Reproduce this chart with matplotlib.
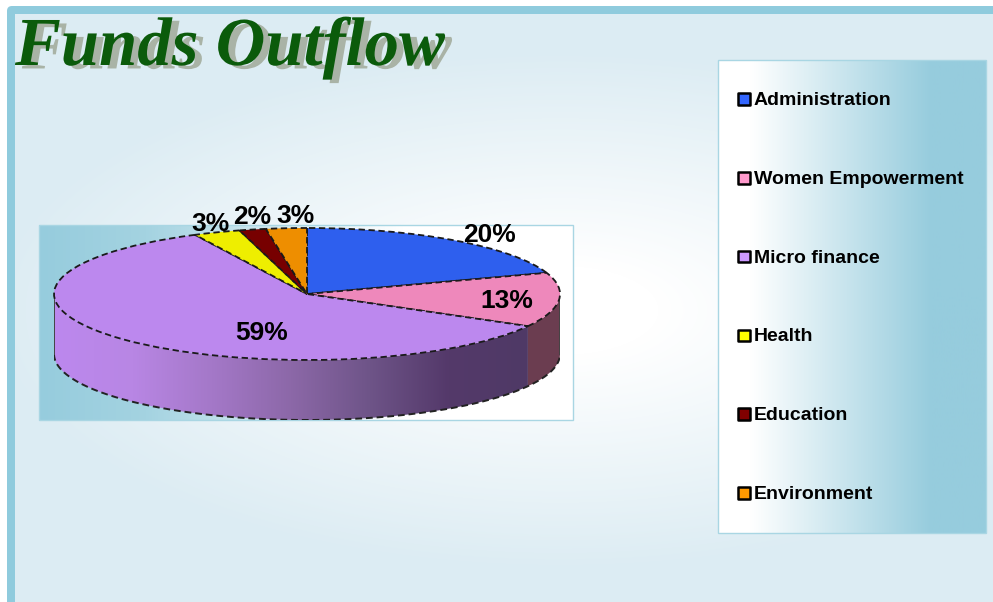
"""
plot.py - Funds Outflow pseudo 3D pie (matplotlib only)
"""
import numpy as np
import matplotlib.pyplot as plt
import matplotlib.patheffects as pe
from matplotlib.colors import LinearSegmentedColormap
from matplotlib.patches import FancyBboxPatch, Polygon, Rectangle

plt.rcParams['font.family'] = ['Liberation Sans', 'DejaVu Sans']

categories = ['Administration', 'Women Empowerment', 'Micro finance', 'Health', 'Education', 'Environment']
values = [19.8, 13.3, 59.6, 3.0, 1.7, 2.6]
pct_labels = ['20%', '13%', '59%', '3%', '2%', '3%']
top_colors = ['#2E5FEE', '#EE88BB', '#BC88EE', '#EEEE00', '#770000', '#EE8E00']
legend_colors = ['#3366FF', '#FF99CC', '#CC99FF', '#FFFF00', '#800000', '#FF9900']
title = 'Funds Outflow'

W, H = 993, 602
DEPTH = 60 / 66  # wall height in units of the ellipse's y radius
DASH = (0, (3.5, 2))


def hgrad(ax, x0, y0, x1, y1, stops, **kw):
    cmap = LinearSegmentedColormap.from_list('g', stops)
    grad = np.linspace(0, 1, 256).reshape(1, -1)
    return ax.imshow(grad, cmap=cmap, extent=(x0, x1, y1, y0), aspect='auto', vmin=0, vmax=1, **kw)


fig = plt.figure(figsize=(W / 100, H / 100), dpi=100)
ax = fig.add_axes([0, 0, 1, 1])
ax.axis('off')

# page frame and soft background
ax.add_patch(FancyBboxPatch((7, 6), 1100, 700, boxstyle='round,pad=0,rounding_size=5',
                            fc='#8FCBDD', ec='none', zorder=0))
xx, yy = np.meshgrid(np.arange(15, W), np.arange(14, H))
dist = np.hypot((xx - 560) / 640, (yy - 310) / 290)
shade = np.clip((dist - 0.15) / 0.75, 0, 1)
page = LinearSegmentedColormap.from_list('page', ['#FFFFFF', '#DCECF3'])
ax.imshow(shade, cmap=page, extent=(15, W, H, 14), aspect='auto', vmin=0, vmax=1, zorder=1)

# title with offset shadow
ax.text(15, 65, title, family='Liberation Serif', style='italic', weight='bold', fontsize=49.5,
        color='#0B5B0B', zorder=3,
        path_effects=[pe.withSimplePatchShadow(offset=(5, -2.5), shadow_rgbFace='#A9B3A6', alpha=1)])

# plot area
hgrad(ax, 39, 225, 573, 420, [(0, '#96CCDD'), (0.2, '#A4D3E1'), (0.68, '#FFFFFF'), (1, '#FFFFFF')], zorder=2)
ax.add_patch(Rectangle((39, 225), 534, 195, fc='none', ec='#A9D6E3', lw=1, zorder=3))

# legend box
hgrad(ax, 718, 60, 986, 533, [(0, '#FFFFFF'), (0.12, '#FFFFFF'), (0.8, '#96CCDD'), (1, '#96CCDD')], zorder=2)
ax.add_patch(Rectangle((718, 60), 268, 473, fc='none', ec='#A9D6E3', lw=1, zorder=3))
legend_y = np.linspace(99, 493, len(categories))
ax.scatter([744] * len(categories), legend_y, marker='s', s=72, c=legend_colors,
           edgecolors='black', linewidths=1.8, zorder=4)
for name, y in zip(categories, legend_y):
    ax.text(753.5, y + 6, name, fontsize=14, weight='bold', va='baseline', color='black', zorder=4)

ax.set_xlim(0, W)
ax.set_ylim(H, 0)

# pie: unit circle stretched to the ellipse, wall drawn below it
pie_ax = fig.add_axes([54 / W, 1 - 420 / H, 506 / W, 192 / H])
pie_ax.axis('off')
pie_ax.patch.set_alpha(0)

bounds = 90 - np.concatenate([[0], np.cumsum(values)]) * 3.6
wall_end = np.radians(bounds[2])  # Women / Micro boundary on the front rim

t = np.linspace(np.pi, 2 * np.pi + wall_end, 200)
purple_wall = np.column_stack([
    np.r_[np.cos(t), np.cos(t[::-1])],
    np.r_[np.sin(t), np.sin(t[::-1]) - DEPTH],
])
t2 = np.linspace(wall_end, 0, 40)
pink_wall = np.column_stack([
    np.r_[np.cos(t2), np.cos(t2[::-1])],
    np.r_[np.sin(t2), np.sin(t2[::-1]) - DEPTH],
])

wall_stops = ['#BC88EE', '#B886E4', '#A478C8', '#8C68A8', '#6E5488', '#54396A', '#4F3A66']
wall_cmap = LinearSegmentedColormap.from_list('wall', wall_stops)
img = pie_ax.imshow(np.linspace(0, 1, 256).reshape(1, -1), cmap=wall_cmap,
                    extent=(-1, purple_wall[:, 0].max(), -1 - DEPTH, 1), aspect='auto', zorder=1)
clip = Polygon(purple_wall, transform=pie_ax.transData, fc='none', ec='none')
pie_ax.add_patch(clip)
img.set_clip_path(clip)
pie_ax.add_patch(Polygon(pink_wall, fc='#6B3D50', ec='none', zorder=1))

# dashed rim of the wall
tb = np.linspace(np.pi, 2 * np.pi, 200)
pie_ax.plot(np.cos(tb), np.sin(tb) - DEPTH, color='#222222', lw=1.4, ls=DASH, zorder=2)
pie_ax.plot([-1, -1], [0, -DEPTH], color='#444444', lw=1.4, zorder=2)
pie_ax.plot([1, 1], [0, -DEPTH], color='#444444', lw=1.4, zorder=2)

wedges, _ = pie_ax.pie(values, colors=top_colors, startangle=90, counterclock=False, radius=1,
                       center=(0, 0), frame=False,
                       wedgeprops=dict(edgecolor='#1A1A1A', linewidth=1.3, linestyle=DASH))
for w in wedges:
    w.set_zorder(3)

pie_ax.set_aspect('auto')
pie_ax.set_xlim(-1, 1)
pie_ax.set_ylim(-1 - DEPTH, 1)
pie_ax.axis('off')

# percentage labels, on top of everything
label_xy = [(489, 235), (507, 301), (262, 333), (210, 224), (252, 217), (295, 216)]
top_ax = fig.add_axes([0, 0, 1, 1])
top_ax.axis('off')
top_ax.patch.set_alpha(0)
for lab, (x, y) in zip(pct_labels, label_xy):
    top_ax.text(x, y, lab, fontsize=19, weight='bold', ha='center', va='center', color='black')
top_ax.set_xlim(0, W)
top_ax.set_ylim(H, 0)

fig.savefig('out.png', dpi=100, facecolor='white')
plt.close(fig)
